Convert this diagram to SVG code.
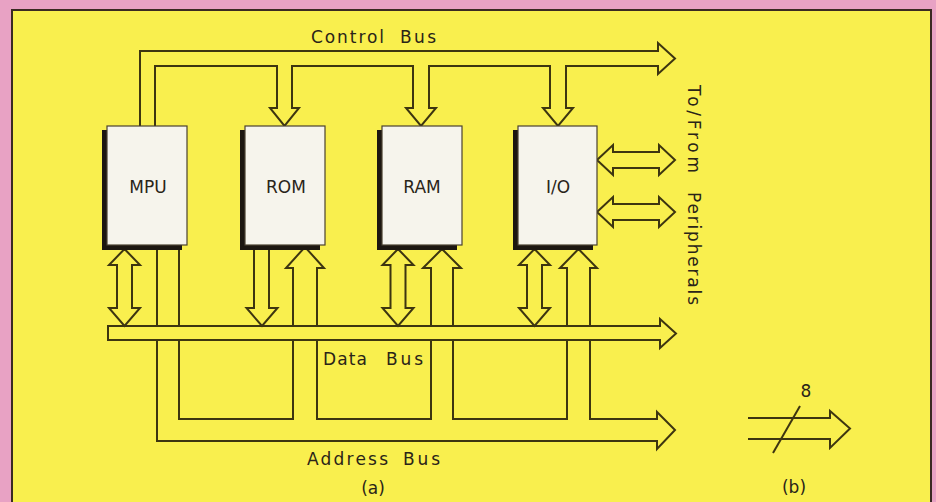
<svg xmlns="http://www.w3.org/2000/svg" width="936" height="502" viewBox="0 0 936 502">
<style>
.bus{fill:none;stroke:#3d3510;stroke-width:2;stroke-linejoin:miter}
.busf{fill:#F9EF4E;stroke:#3d3510;stroke-width:2;stroke-linejoin:miter}
.box{fill:#F6F4EC;stroke:#4a4030;stroke-width:1.2}
.shadow{fill:#1c1610}
.lbl{font-family:"DejaVu Sans","Liberation Sans",sans-serif;font-size:17px;fill:#2a2418;text-anchor:middle}
.txt{font-family:"DejaVu Sans","Liberation Sans",sans-serif;font-size:17px;fill:#2a2418}
</style>
<rect x="0" y="0" width="936" height="502" fill="#E8A2C4"/>
<rect x="12" y="10" width="919" height="500" fill="#F9EF4E" stroke="#3a2a22" stroke-width="2"/>

<g id="connectors">
  <!-- Control bus -->
  <path class="bus" d="M140,126 V51 H658 V43 L675,58.5 L658,74 V66 H566 V108 H573 L558,126 L543,108 H550 V66 H429 V108 H436 L421,126 L406,108 H413 V66 H292 V108 H299 L284.5,126 L270,108 H277 V66 H155 V126"/>
  <!-- Address bus -->
  <path class="bus" d="M157,245 V441 H657 V449 L675,430 L657,412 V419 H590 V268 H597 L578.5,249 L560,268 H567 V419 H453 V268 H461 L442,249 L423,268 H431 V419 H317 V268 H324 L305,247 L286,268 H293 V419 H179 V245"/>
  <!-- Data bus -->
  <path class="busf" d="M108,326 H660 V319 L676,333.5 L660,348 V340 H108 Z"/>
  <!-- MPU bidirectional -->
  <path class="busf" d="M124.5,249 L140,265 H132 V308 H140 L124.5,326 L109,308 H117 V265 H109 Z"/>
  <!-- ROM to data bus -->
  <path class="busf" d="M254,245 V308 H246.5 L262,326 L277.5,308 H269 V245"/>
  <!-- RAM bidirectional -->
  <path class="busf" d="M398,249 L413.5,265 H405.5 V308 H413.5 L398,326 L382.5,308 H390.5 V265 H382.5 Z"/>
  <!-- I/O bidirectional -->
  <path class="busf" d="M534.5,249 L550,265 H542 V308 H550 L534.5,326 L519,308 H527 V265 H519 Z"/>
  <!-- Peripheral links -->
  <path class="busf" d="M597,160 L613,145 V152 H659 V145 L675,160 L659,175 V168 H613 V175 Z"/>
  <path class="busf" d="M597,212 L613,197 V204 H659 V197 L675,212 L659,227 V220 H613 V227 Z"/>
</g>

<g id="MPU">
  <rect class="shadow" x="102" y="130" width="80" height="120"/>
  <rect class="box" x="107" y="126" width="80" height="119"/>
  <text class="lbl" x="148" y="193">MPU</text>
</g>
<g id="ROM">
  <rect class="shadow" x="240" y="130" width="80" height="120"/>
  <rect class="box" x="245" y="126" width="80" height="119"/>
  <text class="lbl" x="286" y="193">ROM</text>
</g>
<g id="RAM">
  <rect class="shadow" x="377" y="130" width="80" height="120"/>
  <rect class="box" x="382" y="126" width="80" height="119"/>
  <text class="lbl" x="422" y="193">RAM</text>
</g>
<g id="IO">
  <rect class="shadow" x="513" y="130" width="80" height="120"/>
  <rect class="box" x="518" y="126" width="79" height="119"/>
  <text class="lbl" x="558" y="193">I/O</text>
</g>

<g id="labels">
  <text class="txt" x="311" y="43" textLength="73" lengthAdjust="spacing">Control</text>
  <text class="txt" x="400" y="43" textLength="36" lengthAdjust="spacing">Bus</text>
  <text class="txt" x="323" y="365" textLength="44" lengthAdjust="spacing">Data</text>
  <text class="txt" x="386" y="365" textLength="37" lengthAdjust="spacing">Bus</text>
  <text class="txt" x="307" y="465" textLength="81" lengthAdjust="spacing">Address</text>
  <text class="txt" x="403" y="465" textLength="37" lengthAdjust="spacing">Bus</text>
  <text class="lbl" x="373" y="494">(a)</text>
  <text class="txt" transform="translate(688,85) rotate(90)" textLength="88" lengthAdjust="spacing">To/From</text>
  <text class="txt" transform="translate(688,192) rotate(90)" textLength="113" lengthAdjust="spacing">Peripherals</text>
</g>

<g id="legend">
  <path class="bus" d="M748,418 H830 V411 L850,428.5 L830,448 V439 H748"/>
  <line x1="800" y1="406" x2="773" y2="453" stroke="#3d3510" stroke-width="2"/>
  <text class="lbl" x="806" y="397" style="font-size:17px">8</text>
  <text class="lbl" x="794" y="493">(b)</text>
</g>
</svg>
